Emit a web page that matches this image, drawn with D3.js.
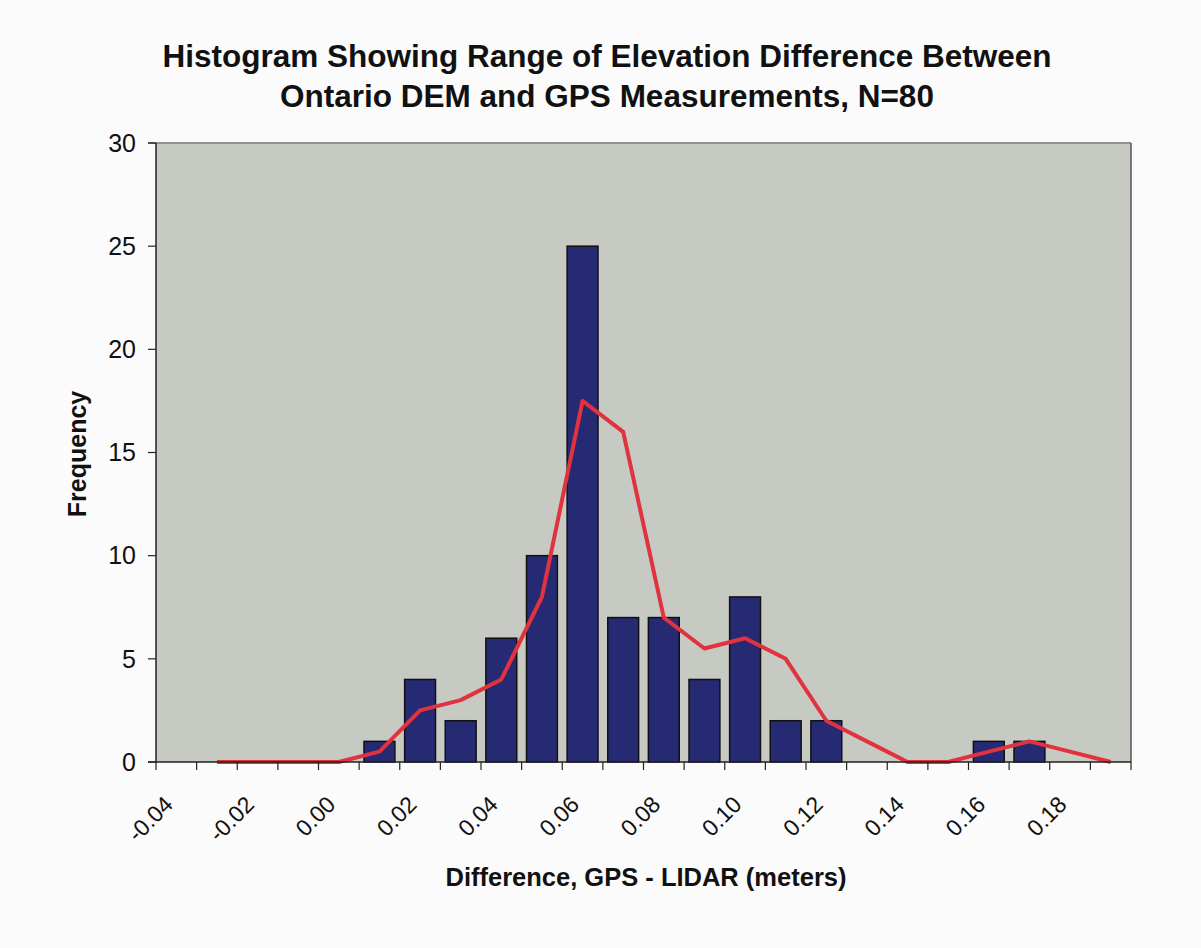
<!DOCTYPE html>
<html>
<head>
<meta charset="utf-8">
<script src="https://cdn.jsdelivr.net/npm/d3@7/dist/d3.min.js"></script>
<style>
  html, body { margin: 0; padding: 0; background: #fbfbfb; }
  svg { display: block; font-family: "Liberation Sans", Arial, sans-serif; }
</style>
</head>
<body>
<svg id="chart" width="1201" height="948"></svg>
<script>
// ---- data ----
const categories = ["-0.04","-0.03","-0.02","-0.01","0.00","0.01","0.02","0.03","0.04","0.05","0.06","0.07",
                    "0.08","0.09","0.10","0.11","0.12","0.13","0.14","0.15","0.16","0.17","0.18","0.19"];
const frequency  = [0,0,0,0,0,1,4,2,6,10,25,7,7,4,8,2,2,0,0,0,1,1,0,0];
// red trend line (2-period moving average), starting at the 2nd category
const trendCategories = categories.slice(1);
const trendValues = [0,0,0,0,0.5,2.5,3,4,8,17.5,16,7,5.5,6,5,2,1,0,0,0.5,1,0.5,0];
const tickLabels = ["-0.04","-0.02","0.00","0.02","0.04","0.06","0.08","0.10","0.12","0.14","0.16","0.18"];
const yTicks = [0,5,10,15,20,25,30];
const titleLines = ["Histogram Showing Range of Elevation Difference Between",
                    "Ontario DEM and GPS Measurements, N=80"];
const xTitle = "Difference, GPS - LIDAR (meters)";
const yTitle = "Frequency";

// ---- layout ----
const L = 156, R = 1131, T = 143, B = 762;
const svg = d3.select("#chart");

const xBand = d3.scaleBand().domain(categories).range([L, R]).paddingInner(0.24).paddingOuter(0.12);
const xEdge = d3.scaleBand().domain(categories).range([L, R]).padding(0);
const cx = c => xBand(c) + xBand.bandwidth() / 2;
const y = d3.scaleLinear().domain([0, 30]).range([B, T]);

// plot area
svg.append("rect").attr("x", L).attr("y", T).attr("width", R - L).attr("height", B - T)
   .attr("fill", "#c7cac2");
svg.append("line").attr("x1", L - 8).attr("x2", R).attr("y1", T).attr("y2", T)
   .attr("stroke", "#8f928c").attr("stroke-width", 2);
svg.append("line").attr("x1", R).attr("x2", R).attr("y1", T).attr("y2", B)
   .attr("stroke", "#555").attr("stroke-width", 1.5);

// bars
svg.append("g").selectAll("rect").data(categories.map((c, i) => ({c, v: frequency[i]})).filter(d => d.v > 0))
  .join("rect")
  .attr("x", d => xBand(d.c)).attr("width", xBand.bandwidth())
  .attr("y", d => y(d.v)).attr("height", d => y(0) - y(d.v))
  .attr("fill", "#252a72").attr("stroke", "#111").attr("stroke-width", 1.5);

// trend line
const line = d3.line().x(d => cx(d.c)).y(d => y(d.v));
svg.append("path")
  .datum(trendCategories.map((c, i) => ({c, v: trendValues[i]})))
  .attr("d", line).attr("fill", "none").attr("stroke", "#e0323f")
  .attr("stroke-width", 4).attr("stroke-linejoin", "round");

// y axis
const yAxis = svg.append("g");
yAxis.append("line").attr("x1", L).attr("x2", L).attr("y1", T).attr("y2", B)
  .attr("stroke", "#222").attr("stroke-width", 1.5);
yAxis.selectAll("line.t").data(yTicks).join("line").attr("class", "t")
  .attr("x1", L - 8).attr("x2", L).attr("y1", d => y(d)).attr("y2", d => y(d))
  .attr("stroke", "#222").attr("stroke-width", 1.2);
yAxis.selectAll("text").data(yTicks).join("text")
  .attr("x", 136).attr("y", d => y(d)).attr("dy", "0.35em")
  .attr("text-anchor", "end").attr("font-size", 25).attr("fill", "#111").text(d => d);

// x axis
const xAxis = svg.append("g");
xAxis.append("line").attr("x1", L - 8).attr("x2", R).attr("y1", B).attr("y2", B)
  .attr("stroke", "#222").attr("stroke-width", 1.5);
const edges = categories.map(c => xEdge(c)).concat([R]);
xAxis.selectAll("line.t").data(edges).join("line").attr("class", "t")
  .attr("x1", d => d).attr("x2", d => d).attr("y1", B).attr("y2", B + 8)
  .attr("stroke", "#222").attr("stroke-width", 1.2);
xAxis.selectAll("text").data(tickLabels).join("text")
  .attr("transform", d => `translate(${cx(d) - 2},${B + 44}) rotate(-45)`)
  .attr("text-anchor", "end").attr("font-size", 23).attr("fill", "#111").text(d => d);

// titles
svg.append("g").selectAll("text").data(titleLines).join("text")
  .attr("x", 607).attr("y", (d, i) => 67 + i * 40)
  .attr("text-anchor", "middle").attr("font-size", 31.5).attr("font-weight", "bold")
  .attr("fill", "#111").text(d => d);
svg.append("text").attr("x", 646).attr("y", 886).attr("text-anchor", "middle")
  .attr("font-size", 25.5).attr("font-weight", "bold").attr("fill", "#111").text(xTitle);
svg.append("text").attr("transform", "translate(86,454) rotate(-90)").attr("text-anchor", "middle")
  .attr("font-size", 25).attr("font-weight", "bold").attr("fill", "#111").text(yTitle);
</script>
</body>
</html>
